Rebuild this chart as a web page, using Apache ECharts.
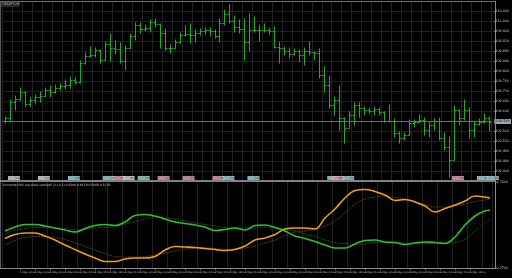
<!DOCTYPE html>
<html><head><meta charset="utf-8">
<script src="https://cdn.jsdelivr.net/npm/echarts/dist/echarts.min.js"></script>
<style>html,body{margin:0;padding:0;background:#000}#c{width:512px;height:278px}</style>
</head><body><div id="c"></div>
<script>
const symbolName = 'USDJPY,H1';
const indicatorTitle = 'Smoothed RSI Absolute strength (2,14,2) 0.6200 0.6150 0.5600 0.5150';
const tickLabels = ['30 Apr 2016','1 May 00:00','1 May 03:00','1 May 06:00','1 May 09:00','1 May 12:00','1 May 15:00','1 May 18:00','1 May 21:00',
  '2 May 00:00','2 May 03:00','2 May 06:00','2 May 09:00','2 May 12:00','2 May 15:00','2 May 18:00','2 May 21:00',
  '3 May 00:00','3 May 03:00','3 May 06:00','3 May 09:00','3 May 12:00','3 May 15:00','3 May 18:00','3 May 21:00',
  '4 May 00:00','4 May 03:00','4 May 06:00','4 May 09:00','4 May 12:00','4 May 15:00','4 May 18:00','4 May 21:00'];
const opens = [109.602,109.614,109.678,109.690,109.718,109.670,109.686,109.698,109.702,109.726,
  109.718,109.734,109.742,109.746,109.766,109.758,109.834,109.862,109.866,109.886,
  109.846,109.910,109.894,109.890,109.842,109.894,109.942,109.986,109.970,109.974,
  109.998,109.990,109.954,109.894,109.894,109.918,109.946,109.950,109.946,109.954,
  109.962,109.966,109.962,109.942,109.994,110.030,110.002,109.978,109.970,109.918,
  109.966,109.966,109.966,109.966,109.962,109.898,109.894,109.882,109.870,109.882,
  109.866,109.882,109.878,109.874,109.786,109.746,109.666,109.686,109.614,109.574,
  109.626,109.666,109.654,109.646,109.642,109.650,109.638,109.602,109.602,109.554,
  109.534,109.546,109.594,109.598,109.606,109.566,109.586,109.602,109.534,109.498,
  109.446,109.646,109.614,109.646,109.566,109.590,109.598,109.614];
const highs = [109.618,109.686,109.702,109.734,109.718,109.694,109.706,109.718,109.734,109.742,
  109.746,109.750,109.766,109.778,109.774,109.842,109.874,109.898,109.894,109.886,
  109.918,109.950,109.922,109.914,109.902,109.950,109.994,109.994,109.986,110.006,
  110.010,109.990,109.970,109.906,109.926,109.954,109.982,109.990,109.966,109.970,
  109.974,109.974,109.966,110.010,110.046,110.066,110.022,110.006,110.010,110.030,
  110.018,109.986,109.990,109.974,109.978,109.918,109.898,109.894,109.890,109.886,
  109.894,109.918,109.878,109.890,109.818,109.782,109.698,109.742,109.614,109.638,
  109.674,109.674,109.658,109.654,109.658,109.654,109.638,109.666,109.610,109.558,
  109.554,109.606,109.606,109.626,109.614,109.598,109.610,109.614,109.554,109.538,
  109.662,109.646,109.686,109.654,109.598,109.610,109.630,109.618];
const lows = [109.594,109.602,109.646,109.686,109.658,109.662,109.670,109.678,109.702,109.698,
  109.714,109.726,109.730,109.734,109.750,109.754,109.830,109.858,109.858,109.834,
  109.846,109.842,109.870,109.834,109.806,109.894,109.926,109.954,109.962,109.958,
  109.978,109.894,109.886,109.874,109.894,109.914,109.942,109.914,109.918,109.946,
  109.950,109.942,109.934,109.918,109.986,109.994,109.958,109.954,109.846,109.882,
  109.958,109.922,109.958,109.950,109.894,109.834,109.866,109.854,109.866,109.838,
  109.826,109.866,109.846,109.774,109.718,109.654,109.626,109.566,109.514,109.574,
  109.586,109.618,109.626,109.634,109.626,109.626,109.598,109.598,109.538,109.514,
  109.526,109.546,109.578,109.594,109.546,109.538,109.566,109.526,109.486,109.378,
  109.446,109.586,109.606,109.534,109.538,109.586,109.594,109.562];
const closes = [109.614,109.678,109.690,109.718,109.670,109.686,109.698,109.702,109.726,109.718,
  109.734,109.742,109.746,109.766,109.758,109.834,109.862,109.866,109.886,109.846,
  109.910,109.894,109.890,109.842,109.894,109.942,109.986,109.970,109.974,109.998,
  109.990,109.954,109.894,109.894,109.918,109.946,109.950,109.946,109.954,109.962,
  109.966,109.962,109.942,109.994,110.030,110.002,109.978,109.970,109.918,109.966,
  109.966,109.966,109.966,109.962,109.898,109.894,109.882,109.870,109.882,109.866,
  109.882,109.878,109.874,109.786,109.746,109.666,109.686,109.614,109.574,109.626,
  109.666,109.654,109.646,109.642,109.650,109.638,109.602,109.602,109.554,109.534,
  109.546,109.594,109.598,109.606,109.566,109.586,109.602,109.534,109.498,109.446,
  109.646,109.614,109.646,109.566,109.590,109.598,109.614,109.598];
const sampleBars = [0,2,4,6,8,10,12,14,16,18,20,22,24,26,28,30,32,34,36,38,40,42,44,46,48,50,52,54,56,58,60,62,64,66,68,70,72,74,76,78,80,82,84,86,88,90,92,94,96,97];
const orangeMain = [0.4175,0.4375,0.445,0.445,0.43,0.41,0.385,0.3625,0.34,0.32,
  0.3025,0.3025,0.315,0.32,0.32,0.3275,0.36,0.3775,0.375,0.3725,
  0.3675,0.3625,0.3575,0.3625,0.38,0.41,0.42,0.4375,0.465,0.47,
  0.47,0.465,0.52,0.565,0.62,0.6575,0.6625,0.6525,0.635,0.6075,
  0.6125,0.60,0.58,0.55,0.5675,0.585,0.605,0.63,0.625,0.62];
const orangeSignal = [0.385,0.4075,0.4225,0.4275,0.4275,0.4225,0.4125,0.395,0.3775,0.36,
  0.3425,0.3275,0.325,0.325,0.3275,0.335,0.345,0.355,0.365,0.37,
  0.37,0.3675,0.3625,0.365,0.37,0.38,0.395,0.41,0.4325,0.45,
  0.455,0.465,0.48,0.505,0.545,0.59,0.615,0.625,0.63,0.6225,
  0.615,0.6025,0.5875,0.575,0.575,0.58,0.59,0.6025,0.61,0.615];
const greenMain = [0.455,0.475,0.4875,0.4875,0.48,0.47,0.46,0.45,0.4675,0.4825,
  0.4875,0.4825,0.50,0.5325,0.5375,0.53,0.515,0.50,0.4925,0.485,
  0.475,0.4575,0.4625,0.47,0.46,0.4825,0.485,0.4725,0.455,0.43,
  0.4175,0.4025,0.385,0.37,0.37,0.39,0.4075,0.41,0.40,0.3975,
  0.3875,0.395,0.40,0.3975,0.3925,0.425,0.485,0.53,0.555,0.56];
const greenSignal = [0.4425,0.4575,0.4675,0.4725,0.4725,0.47,0.4675,0.46,0.465,0.47,
  0.4725,0.475,0.49,0.5025,0.515,0.525,0.5225,0.515,0.505,0.495,
  0.4875,0.48,0.4725,0.47,0.47,0.47,0.475,0.4725,0.465,0.455,
  0.44,0.4275,0.41,0.3975,0.3925,0.3875,0.39,0.3975,0.395,0.395,
  0.395,0.395,0.395,0.395,0.395,0.3975,0.415,0.455,0.495,0.515];
const eventBars = [1,7,13,20,22,24,27,31,36,42,44,49,65,66,68,90,95,97];
const eventKinds = ['w','w','c','c','p','w','c','p','p','p','c','c','c','p','c','p','c','c'];
const eventPrice = 109.374;

const kindColor = {c:'#a6dcdf', p:'#eaa6b8', w:'#dcdfdf'};
const kindText = {c:'USD', p:'JPY', w:'EUR'};
const GREEN = '#20ae20';
const GRID = '#1f2225';
const FRAME = '#8a8a8a';
const FONT = 'DejaVu Sans';

const cats = opens.map((_, i) => (i % 3 === 0 ? tickLabels[i / 3] : ''));
const lastClose = closes[closes.length - 1];

const chart = echarts.init(document.getElementById('c'), null, {renderer: 'canvas'});
chart.setOption({
  backgroundColor: '#000',
  animation: false,
  grid: [
    {left: 2.5, width: 490, top: 1.5, height: 180},
    {left: 2.5, width: 490, top: 182, height: 86}
  ],
  xAxis: [
    {type: 'category', gridIndex: 0, data: cats, boundaryGap: true,
     axisLine: {show: false}, axisTick: {show: false}, axisLabel: {show: false},
     splitLine: {show: true, interval: 1, lineStyle: {color: GRID, width: 1}}},
    {type: 'category', gridIndex: 1, data: cats, boundaryGap: true,
     axisLine: {show: false},
     axisTick: {show: true, interval: 2, alignWithLabel: true, length: 2, lineStyle: {color: '#777'}},
     axisLabel: {show: true, interval: 2, align: 'left', margin: 2.5, fontSize: 2.5, fontFamily: FONT, color: '#c8c8c8'},
     splitLine: {show: true, interval: 2, lineStyle: {color: GRID, width: 1}}}
  ],
  yAxis: [
    {type: 'value', gridIndex: 0, position: 'right', offset: 2.5, min: 109.36, max: 110.08, interval: 0.04,
     axisLine: {show: false},
     axisTick: {show: true, length: 1.5, lineStyle: {color: '#888'}},
     axisLabel: {show: true, showMinLabel: false, showMaxLabel: false, margin: 1.5, fontSize: 3.3, fontFamily: FONT, color: '#c8c8c8',
       formatter: v => v.toFixed(3)},
     splitLine: {show: true, lineStyle: {color: GRID, width: 1}}},
    {type: 'value', gridIndex: 1, position: 'right', offset: 2.5, min: 0.27, max: 0.70, interval: 0.43,
     axisLine: {show: false},
     axisTick: {show: true, length: 1.5, lineStyle: {color: '#888'}},
     axisLabel: {show: true, margin: 1.5, fontSize: 3.3, fontFamily: FONT, color: '#c8c8c8',
       formatter: v => v.toFixed(4)},
     splitLine: {show: false}}
  ],
  series: [
    {
      type: 'custom', xAxisIndex: 0, yAxisIndex: 0, z: 5,
      data: opens.map((o, i) => [i, o, highs[i], lows[i], closes[i]]),
      renderItem: (params, api) => {
        const i = api.value(0);
        const o = api.coord([i, api.value(1)]);
        const h = api.coord([i, api.value(2)]);
        const l = api.coord([i, api.value(3)]);
        const c = api.coord([i, api.value(4)]);
        const x = Math.round(o[0]) + 0.5;
        const st = {stroke: GREEN, lineWidth: 1};
        return {type: 'group', children: [
          {type: 'line', shape: {x1: x, y1: h[1] - 0.5, x2: x, y2: l[1] + 0.5}, style: st},
          {type: 'line', shape: {x1: x - 2, y1: Math.round(o[1]) + 0.5, x2: x, y2: Math.round(o[1]) + 0.5}, style: st},
          {type: 'line', shape: {x1: x, y1: Math.round(c[1]) + 0.5, x2: x + 2, y2: Math.round(c[1]) + 0.5}, style: st}
        ]};
      },
      markLine: {
        silent: true, symbol: 'none', animation: false,
        lineStyle: {color: '#6e6e6e', width: 1, type: 'solid'},
        label: {show: true, position: 'end', distance: 3, formatter: () => lastClose.toFixed(3),
          fontSize: 3.3, fontFamily: FONT, color: '#101010', backgroundColor: '#9aa6b4', padding: [1, 1.5]},
        data: [{yAxis: lastClose}]
      }
    },
    {
      type: 'scatter', xAxisIndex: 0, yAxisIndex: 0, z: 6, symbol: 'rect', symbolSize: [12, 4], symbolOffset: [4, 0],
      data: eventBars.map((b, k) => ({value: [b, eventPrice], itemStyle: {color: kindColor[eventKinds[k]]},
        label: {formatter: kindText[eventKinds[k]]}})),
      label: {show: true, position: 'inside', offset: [4, 0], fontSize: 2.5, fontFamily: FONT, color: '#333'}
    },
    {type: 'line', xAxisIndex: 1, yAxisIndex: 1, z: 3, smooth: 0.4, showSymbol: false,
     data: sampleBars.map((b, k) => [b, orangeSignal[k]]), lineStyle: {color: '#6a4410', width: 1, type: [1.5, 1]}},
    {type: 'line', xAxisIndex: 1, yAxisIndex: 1, z: 3, smooth: 0.4, showSymbol: false,
     data: sampleBars.map((b, k) => [b, greenSignal[k]]), lineStyle: {color: '#245a24', width: 1, type: [1.5, 1]}},
    {type: 'line', xAxisIndex: 1, yAxisIndex: 1, z: 4, smooth: 0.4, showSymbol: false,
     data: sampleBars.map((b, k) => [b, orangeMain[k]]), lineStyle: {color: '#ee9f12', width: 1.6}},
    {type: 'line', xAxisIndex: 1, yAxisIndex: 1, z: 4, smooth: 0.4, showSymbol: false,
     data: sampleBars.map((b, k) => [b, greenMain[k]]), lineStyle: {color: '#2fc02f', width: 1.6}}
  ],
  graphic: [
    {type: 'line', silent: true, z: 10, shape: {x1: 0, y1: 1.5, x2: 496, y2: 1.5}, style: {stroke: '#6f6f6f', lineWidth: 1}},
    {type: 'line', silent: true, z: 10, shape: {x1: 0.5, y1: 1, x2: 0.5, y2: 269}, style: {stroke: '#5a5a5a', lineWidth: 1}},
    {type: 'line', silent: true, z: 10, shape: {x1: 0, y1: 181, x2: 496, y2: 181}, style: {stroke: '#a6a6a6', lineWidth: 1.5}},
    {type: 'line', silent: true, z: 10, shape: {x1: 495.5, y1: 1, x2: 495.5, y2: 269}, style: {stroke: FRAME, lineWidth: 1}},
    {type: 'line', silent: true, z: 10, shape: {x1: 0, y1: 268.5, x2: 496, y2: 268.5}, style: {stroke: FRAME, lineWidth: 1}},
    {type: 'rect', silent: true, z: 11, shape: {x: 1.5, y: 2, width: 17, height: 4.5}, style: {fill: '#1a1a1a', stroke: '#555', lineWidth: 0.5}},
    {type: 'text', silent: true, z: 12, left: 2.5, top: 2.3, style: {text: symbolName, fontSize: 3.3, fontFamily: FONT, fill: '#c8c8c8'}},
    {type: 'text', silent: true, z: 12, left: 3, top: 183.5, style: {text: indicatorTitle, fontSize: 3, fontFamily: FONT, fill: '#c0c0c0'}}
  ]
});
</script></body></html>
